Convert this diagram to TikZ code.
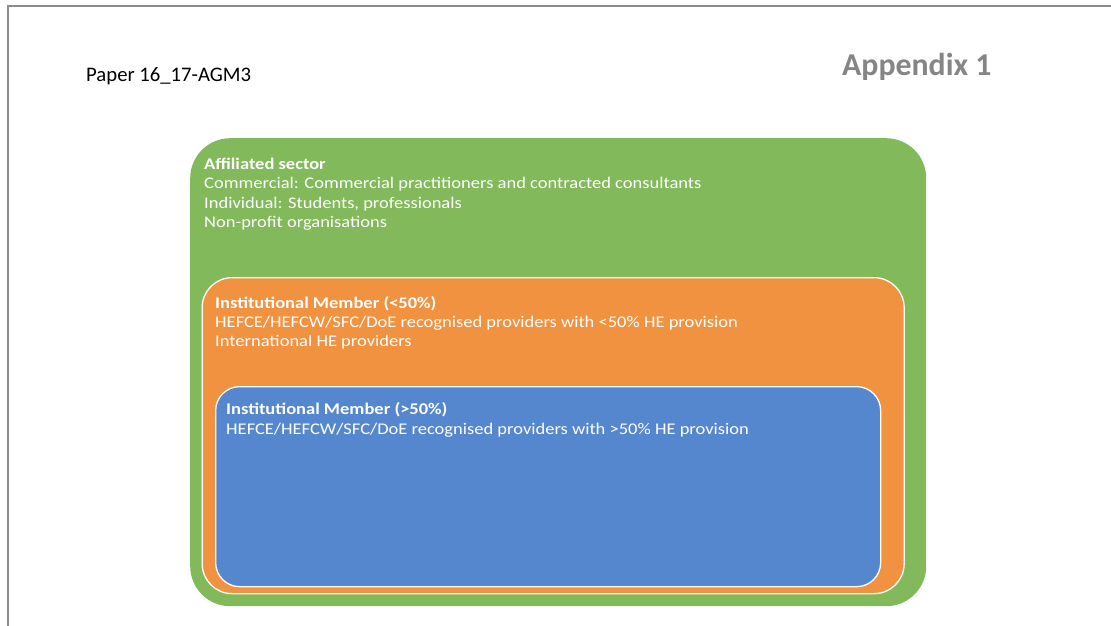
\documentclass[tikz,border=0pt]{standalone}
\usepackage{fontspec}
\setmainfont{Carlito}
\newfontfamily\tierfont[FakeStretch=1.135]{Carlito}
\usetikzlibrary{positioning}

\definecolor{sectorgreen}{RGB}{130,185,90}
\definecolor{memberorange}{RGB}{241,146,65}
\definecolor{memberblue}{RGB}{85,135,206}
\definecolor{pagegray}{RGB}{140,140,140}

\tikzset{
  tier/.style={anchor=north west, inner sep=0pt},
  tiertext/.style={anchor=north west, inner sep=0pt, align=left,
                   text=white, font=\tierfont\fontsize{16.3}{19.4}\selectfont}
}

\begin{document}
\begin{tikzpicture}[x=1pt,y=-1pt]
	\useasboundingbox (0,0) rectangle (1111,626);
	% page edge
	\draw[pagegray, line width=2pt] (8,626) -- (8,6) -- (1111,6);

	\node (paper) [anchor=base west, inner sep=0pt, font=\fontsize{20.7}{24}\selectfont]
	  at (86,81.5) {Paper 16\_17-AGM3};
	\node (appendix) [anchor=base west, inner sep=0pt, text=pagegray!95!black,
	                  font=\fontsize{31.8}{36}\selectfont\bfseries]
	  at (842,75.5) {Appendix 1};

	% nested member tiers
	\node (affiliated) [tier, fill=sectorgreen, rounded corners=40pt,
	                    minimum width=736pt, minimum height=468pt] at (190,138) {};
	\node (lower) [tier, fill=memberorange, draw=white, line width=1.3pt, rounded corners=30pt,
	               minimum width=702pt, minimum height=316pt] at (201.5,277) {};
	\node (upper) [tier, fill=memberblue, draw=white, line width=1.3pt, rounded corners=24pt,
	               minimum width=665pt, minimum height=200pt] at (215,386) {};

	\node (affiliated-text) [tiertext, below right=19.8pt and 14pt of affiliated.north west]
	  {\textbf{Affiliated sector}\\
	   Commercial: Commercial practitioners and contracted consultants\\
	   Individual: Students, professionals\\
	   Non-profit organisations};
	\node (lower-text) [tiertext, below right=18.8pt and 13.5pt of lower.north west]
	  {\textbf{Institutional Member (<50\%)}\\
	   HEFCE/HEFCW/SFC/DoE recognised providers with <50\% HE provision\\
	   International HE providers};
	\node (upper-text) [tiertext, below right=16.3pt and 11pt of upper.north west]
	  {\textbf{Institutional Member (>50\%)}\\
	   HEFCE/HEFCW/SFC/DoE recognised providers with >50\% HE provision};
\end{tikzpicture}
\end{document}
